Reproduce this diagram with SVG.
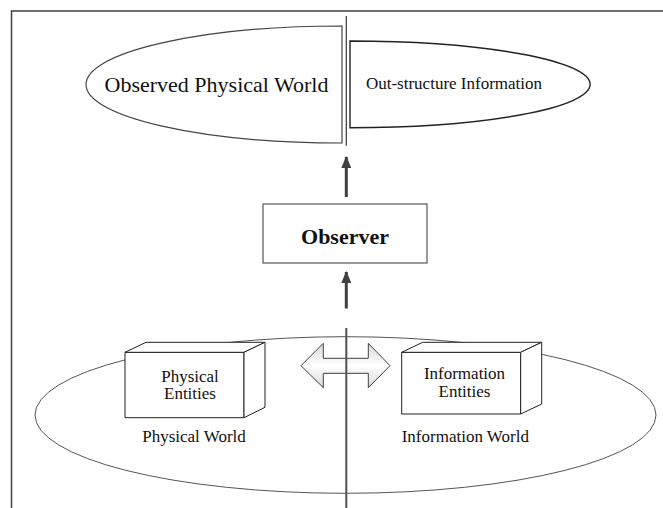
<svg xmlns="http://www.w3.org/2000/svg" width="663" height="508" viewBox="0 0 663 508">
  <style>
    text { font-family: "Liberation Serif", "Times New Roman", serif; fill: #111; }
    .lbl { font-size: 17px; text-anchor: middle; }
    .box { fill: #fff; stroke: #222; stroke-width: 1; stroke-linejoin: round; }
    .conn { stroke: #404040; stroke-width: 3; fill: none; }
  </style>
  <defs>
    <marker id="ah" viewBox="0 0 12 10" refX="11" refY="5" markerWidth="12" markerHeight="10" markerUnits="userSpaceOnUse" orient="auto">
      <path d="M0,0 L12,5 L0,10 Z" fill="#404040"/>
    </marker>
    <linearGradient id="dg" x1="0" y1="0" x2="0" y2="1">
      <stop offset="0" stop-color="#d8d8d8"/>
      <stop offset="0.5" stop-color="#ffffff"/>
      <stop offset="1" stop-color="#d8d8d8"/>
    </linearGradient>
  </defs>

  <rect width="663" height="508" fill="#fff"/>
  <path id="frame" d="M11.5,508 V11 H663" fill="none" stroke="#404040" stroke-width="1.5"/>

  <g id="observed-physical-world">
    <path d="M342,26 A256,58.5 0 0 0 342,143 Z" fill="#fff" stroke="#444" stroke-width="1.2"/>
    <text x="216.5" y="91.5" font-size="22" text-anchor="middle">Observed Physical World</text>
  </g>

  <g id="out-structure-information">
    <path d="M350,41 A240,43.3 0 0 1 350,127.7 Z" fill="#fff" stroke="#222" stroke-width="1.4"/>
    <text x="454" y="89.3" font-size="17" text-anchor="middle">Out-structure Information</text>
  </g>

  <g id="observer">
    <rect x="263" y="204" width="164" height="59" fill="#fff" stroke="#555" stroke-width="1.2"/>
    <text x="345" y="244" font-size="22" font-weight="bold" text-anchor="middle">Observer</text>
  </g>

  <g id="world">
    <ellipse cx="345.5" cy="415" rx="310.5" ry="78.3" fill="none" stroke="#555" stroke-width="1"/>
    <text class="lbl" x="194" y="441.7">Physical World</text>
    <text class="lbl" x="465.3" y="441.7">Information World</text>
  </g>

  <g id="physical-entities">
    <rect class="box" x="125" y="352.3" width="119" height="65.4"/>
    <polygon class="box" points="125,352.3 146,342.3 265,342.3 244,352.3"/>
    <polygon class="box" points="244,352.3 265,342.3 265,407.3 244,417.7"/>
    <text class="lbl" x="190" y="381.7">Physical</text>
    <text class="lbl" x="190" y="399.3">Entities</text>
  </g>

  <g id="information-entities">
    <rect class="box" x="401.7" y="352.3" width="119" height="61.7"/>
    <polygon class="box" points="401.7,352.3 422.7,342.3 541.7,342.3 520.7,352.3"/>
    <polygon class="box" points="520.7,352.3 541.7,342.3 541.7,404 520.7,414"/>
    <text class="lbl" x="464.5" y="378.7">Information</text>
    <text class="lbl" x="464.5" y="396.7">Entities</text>
  </g>

  <g id="connectors">
    <line x1="346.3" y1="16" x2="346.3" y2="145.7" stroke="#444" stroke-width="1.3"/>
    <line class="conn" x1="346.3" y1="197" x2="346.3" y2="157" marker-end="url(#ah)"/>
    <line class="conn" x1="346.3" y1="308.5" x2="346.3" y2="272" marker-end="url(#ah)"/>
    <polygon id="exchange" points="301,365.7 323.3,343.3 323.3,358.3 368.3,358.3 368.3,343.3 390,365.7 368.3,387.7 368.3,373.3 323.3,373.3 323.3,387.7" fill="url(#dg)" stroke="#404040" stroke-width="1"/>
    <line x1="346.3" y1="328" x2="346.3" y2="508" stroke="#505050" stroke-width="2"/>
  </g>
</svg>
